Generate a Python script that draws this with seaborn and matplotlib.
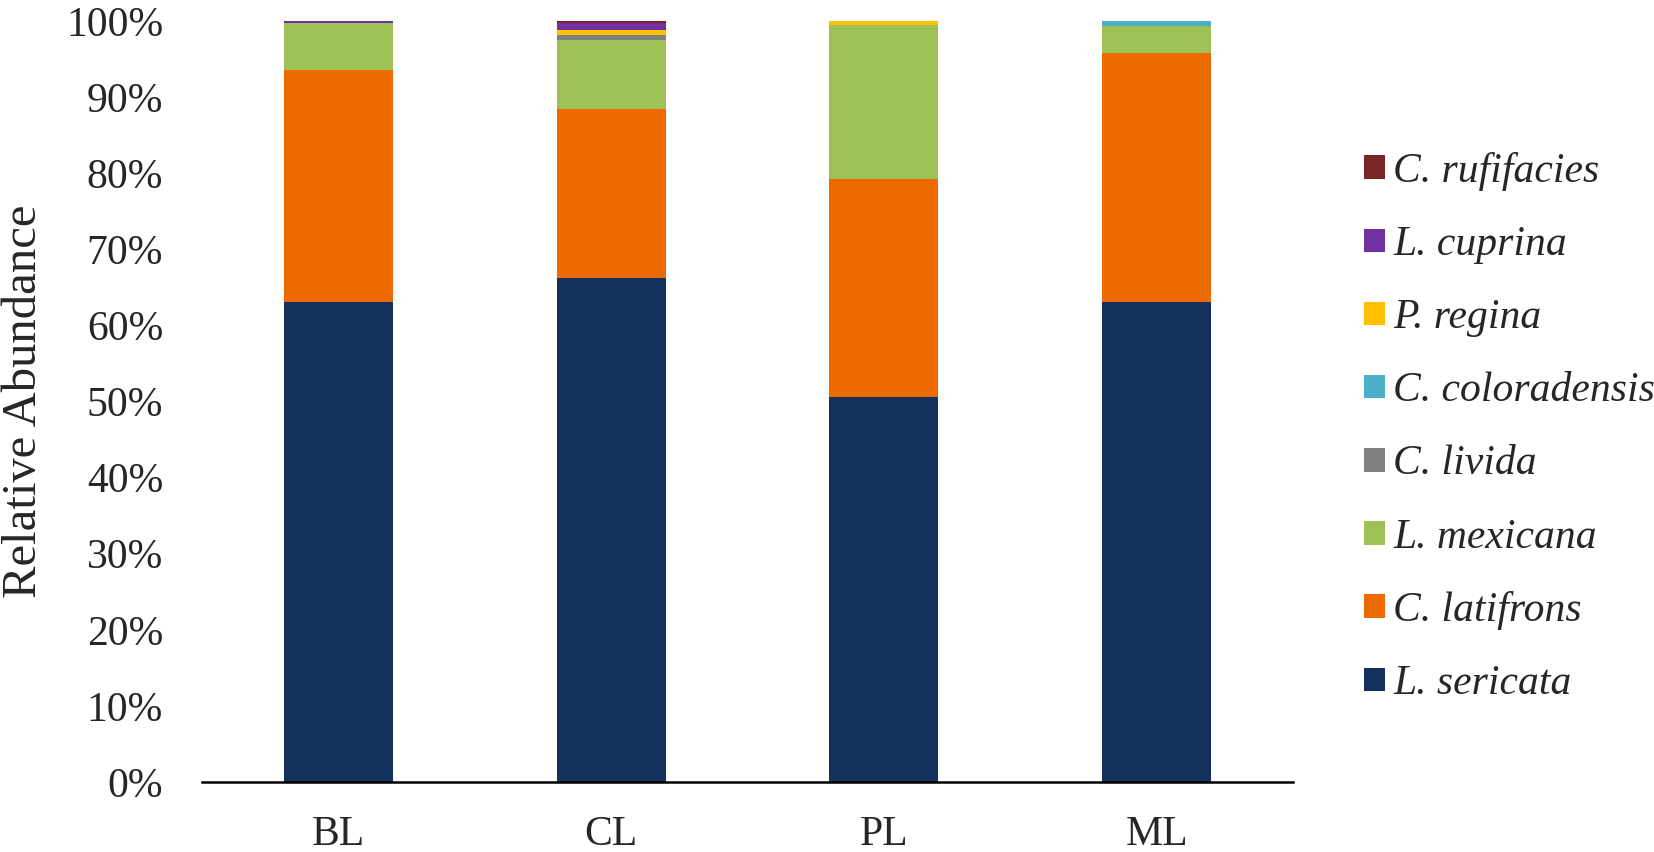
import matplotlib
matplotlib.use("Agg")
import matplotlib.pyplot as plt
import seaborn as sns
import numpy as np
import pandas as pd
from matplotlib.patches import Patch

# Data (percent relative abundance per site)
sites = ["BL", "CL", "PL", "ML"]
species = ["L. sericata", "C. latifrons", "L. mexicana", "C. livida",
           "C. coloradensis", "P. regina", "L. cuprina", "C. rufifacies"]
l_sericata = [63.1, 66.2, 50.6, 63.1]
c_latifrons = [30.4, 22.2, 28.7, 32.7]
l_mexicana = [6.2, 9.1, 20.2, 3.5]
c_livida = [0.0, 0.7, 0.0, 0.0]
c_coloradensis = [0.0, 0.0, 0.0, 0.7]
p_regina = [0.0, 0.65, 0.5, 0.0]
l_cuprina = [0.3, 0.85, 0.0, 0.0]
c_rufifacies = [0.0, 0.3, 0.0, 0.0]
colors = ["#13315c", "#ec6a00", "#9dc154", "#808080",
          "#4bafc9", "#ffc000", "#7030a0", "#7b2626"]

values = [l_sericata, c_latifrons, l_mexicana, c_livida,
          c_coloradensis, p_regina, l_cuprina, c_rufifacies]

sns.set_style("white")
plt.rcParams['font.family'] = ['Liberation Serif', 'DejaVu Serif']

fig = plt.figure(figsize=(16.54, 8.52), dpi=100)
ax = fig.add_axes([202/1654, 70/852, 1091/1654, 761/852])

# Stacked bars, one layer per species
bottom = np.zeros(len(sites))
for name, vals, col in zip(species, values, colors):
    df = pd.DataFrame({"site": sites, "value": vals})
    sns.barplot(data=df, x="site", y="value", order=sites, color=col,
                saturation=1, width=0.4, errorbar=None, bottom=bottom,
                linewidth=0, ax=ax)
    bottom = bottom + np.array(vals)

ax.set_ylim(0, 100)
ax.set_yticks(range(0, 101, 10))
ax.set_yticklabels([f"{v}%" for v in range(0, 101, 10)])
ax.tick_params(axis="y", length=0, pad=28, labelsize=30)
ax.tick_params(axis="x", length=0, pad=24, labelsize=30)
ax.set_xlabel("")
ax.set_ylabel("Relative Abundance", fontsize=35)
ax.yaxis.set_label_coords(-0.143, 0.5)

for s in ["top", "right", "left"]:
    ax.spines[s].set_visible(False)
ax.spines["bottom"].set_color("black")
ax.spines["bottom"].set_linewidth(1.8)

# Legend in reverse order (top of stack first)
handles = [Patch(facecolor=c, edgecolor="none") for c in colors][::-1]
fig.legend(handles, species[::-1], loc="center left",
           bbox_to_anchor=(1364/1654, 0.498), frameon=False,
           prop={"family": "Liberation Serif", "style": "italic", "size": 30},
           handlelength=0.5, handleheight=0.5, handletextpad=0.2,
           labelspacing=0.83, borderpad=0, borderaxespad=0)

fig.savefig("out.png", dpi=100)
